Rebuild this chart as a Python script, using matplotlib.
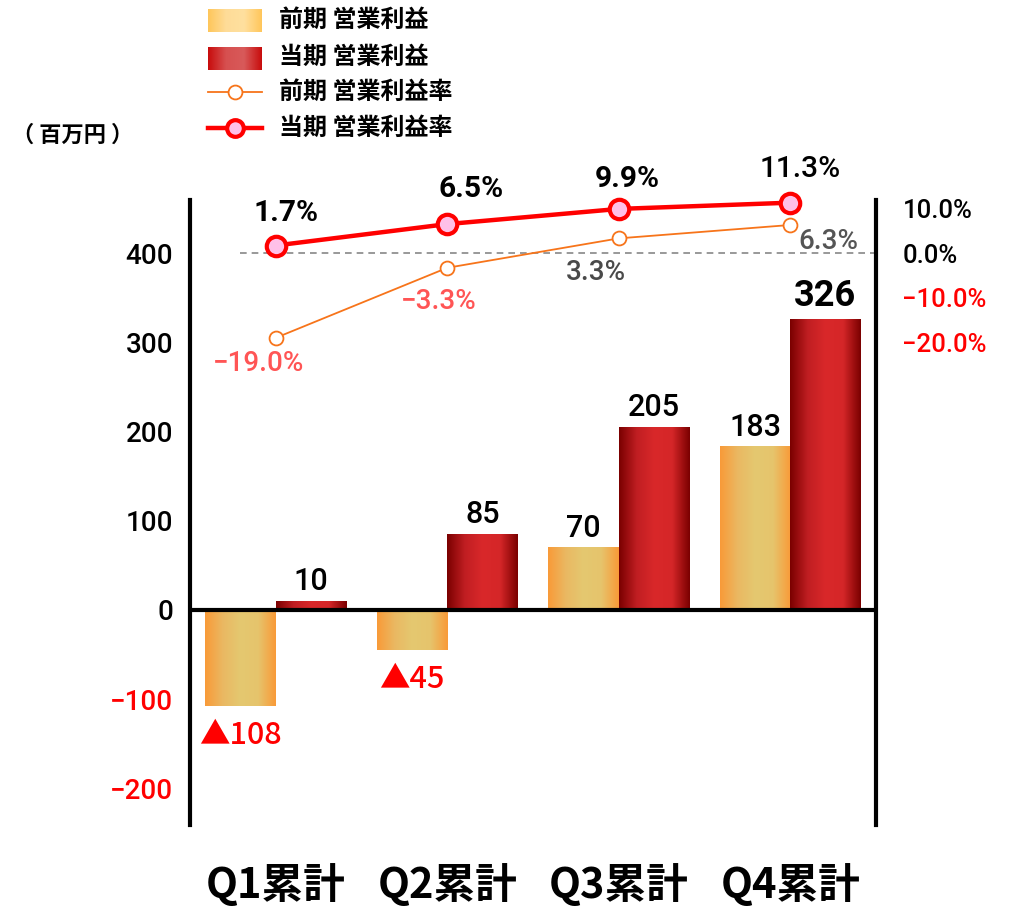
import numpy as np
import matplotlib
matplotlib.use("Agg")
import matplotlib.pyplot as plt
from matplotlib.colors import LinearSegmentedColormap

plt.rcParams["font.family"] = ["Liberation Sans", "Noto Sans CJK JP", "DejaVu Sans"]

# ── data ──────────────────────────────────────────────────────────────
categories = ["Q1累計", "Q2累計", "Q3累計", "Q4累計"]
prev_profit = [-108, -45, 70, 183]
curr_profit = [10, 85, 205, 326]
prev_rate = [-19.0, -3.3, 3.3, 6.3]
curr_rate = [1.7, 6.5, 9.9, 11.3]

left_ticks = [-200, -100, 0, 100, 200, 300, 400]
right_ticks = [-20, -10, 0, 10]

series_names = ["前期 営業利益", "当期 営業利益", "前期 営業利益率", "当期 営業利益率"]

# ── styles ────────────────────────────────────────────────────────────
RED = "#ff0000"
ORANGE = "#f7741a"
NUM = ["Roboto", "DejaVu Sans"]
CJK = ["Noto Sans CJK JP", "DejaVu Sans"]

cmap_prev = LinearSegmentedColormap.from_list(
    "prev", ["#f99a38", "#eab862", "#e4c870", "#e6c46c", "#f99a38"])
cmap_curr = LinearSegmentedColormap.from_list(
    "curr", ["#7a0000", "#c01e22", "#d9282a", "#d52628", "#7a0000"])
cmap_prev_leg = LinearSegmentedColormap.from_list(
    "prev_leg", ["#ffc65a", "#fedc98", "#ffe09f", "#ffc65a"])
cmap_curr_leg = LinearSegmentedColormap.from_list(
    "curr_leg", ["#c80c0c", "#d65050", "#d85a5a", "#c80c0c"])


def fmt_pct(v):
    return f"{v:.1f}%".replace("-", "\u2212")


def gradient_bar(ax, bar, cmap):
    x, y = bar.get_x(), bar.get_y()
    w, h = bar.get_width(), bar.get_height()
    grad = np.linspace(0, 1, 256).reshape(1, -1)
    ax.imshow(grad, extent=[x, x + w, y, y + h], cmap=cmap,
              aspect="auto", zorder=2, interpolation="bicubic")


fig = plt.figure(figsize=(10.1, 9.09), dpi=100)
ax = fig.add_axes([190 / 1010, 1 - 825 / 909, 686 / 1010, 625 / 909])

x = np.arange(len(categories))
width = 0.41
bars_prev = ax.bar(x - width / 2, prev_profit, width, color="none", zorder=2)
bars_curr = ax.bar(x + width / 2, curr_profit, width, color="none", zorder=2)
for b in bars_prev:
    gradient_bar(ax, b, cmap_prev)
for b in bars_curr:
    gradient_bar(ax, b, cmap_curr)

ax.set_xlim(-0.5, len(categories) - 0.5)
ylo, yhi = -241, 459.5
ax.set_ylim(ylo, yhi)
ax.axhline(0, color="black", lw=3, zorder=3)

# bar value labels
for b, v in zip(bars_prev, prev_profit):
    cx = b.get_x() + b.get_width() / 2
    if v < 0:
        ax.annotate(f"▲{abs(v)}", (cx, v), xytext=(0, -14), textcoords="offset pixels",
                    ha="center", va="top", fontsize=22, color=RED,
                    family=CJK, fontweight="medium")
    else:
        ax.annotate(f"{v}", (cx, v), xytext=(0, 5), textcoords="offset pixels",
                    ha="center", va="bottom", fontsize=22, color="black",
                    family=NUM, fontweight="medium")
for i, (b, v) in enumerate(zip(bars_curr, curr_profit)):
    cx = b.get_x() + b.get_width() / 2
    big = i == len(curr_profit) - 1
    ax.annotate(f"{v}", (cx, v), xytext=(0, 5), textcoords="offset pixels",
                ha="center", va="bottom", fontsize=26 if big else 22,
                fontweight="bold" if big else "medium", color="black", family=NUM)

# axes styling
for s in ["top", "bottom", "right"]:
    ax.spines[s].set_visible(False)
ax.spines["left"].set_linewidth(3)
ax.set_yticks(left_ticks)
ax.set_yticklabels([str(t).replace("-", "\u2212") for t in left_ticks], fontsize=20,
                   family=NUM, fontweight="medium")
for lbl, t in zip(ax.get_yticklabels(), left_ticks):
    lbl.set_color(RED if t < 0 else "black")
ax.tick_params(axis="y", length=0, pad=12)
ax.set_xticks(x)
ax.set_xticklabels(categories, fontsize=30, fontweight="bold", family=CJK)
ax.tick_params(axis="x", length=0, pad=28)

# right axis: rate (%), 0% aligned with 400, 10% == 50
ax2 = ax.twinx()
ax2.set_ylim((ylo - 400) / 5, (yhi - 400) / 5)
for s in ["top", "bottom", "left"]:
    ax2.spines[s].set_visible(False)
ax2.spines["right"].set_linewidth(3)
ax2.set_yticks(right_ticks)
ax2.set_yticklabels([fmt_pct(t) for t in right_ticks], fontsize=18.5, family=NUM,
                    fontweight="medium")
for lbl, t in zip(ax2.get_yticklabels(), right_ticks):
    lbl.set_color(RED if t < 0 else "black")
ax2.tick_params(axis="y", length=0, pad=19)

ax2.hlines(0, -0.21, len(categories) - 0.5, colors="#888888", linestyles=(0, (4, 3)),
           lw=1.2, zorder=1)

ax2.plot(x, prev_rate, color=ORANGE, lw=1.3, marker="o", ms=10, mfc="white",
         mec=ORANGE, mew=1.3, zorder=4, clip_on=False)
ax2.plot(x, curr_rate, color=RED, lw=3.2, marker="o", ms=14, mfc="#ffc0e8",
         mec=RED, mew=3, zorder=5, clip_on=False)

# rate labels
curr_off = [(10, 33), (24, 35), (8, 30), (10, 34)]
curr_wt = ["bold", "bold", "bold", "medium"]
for xi, v, (dx, dy), wt in zip(x, curr_rate, curr_off, curr_wt):
    ax2.annotate(fmt_pct(v), (xi, v), xytext=(dx, dy), textcoords="offset pixels",
                 ha="center", va="center", fontsize=21.5, color="black",
                 family=NUM, fontweight=wt)
prev_off = [(-17, -26), (-9, -34), (-23, -34), (38, -17)]
prev_col = ["#ff5555", "#ff5555", "#4a4a4a", "#555555"]
for xi, v, (dx, dy), c in zip(x, prev_rate, prev_off, prev_col):
    ax2.annotate(fmt_pct(v), (xi, v), xytext=(dx, dy), textcoords="offset pixels",
                 ha="center", va="center", fontsize=20, fontweight="medium", color=c,
                 family=NUM)

# unit label
fig.text(12 / 1010, 1 - 135 / 909, "（ 百万円 ）", fontsize=16, fontweight="bold",
         family=CJK, va="center", ha="left")

# legend (drawn manually to keep the gradient swatches)
lg = fig.add_axes([200 / 1010, 1 - 145 / 909, 300 / 1010, 145 / 909])
grad = np.linspace(0, 1, 256).reshape(1, -1)
lg.imshow(grad, extent=[8, 62, 32, 9], cmap=cmap_prev_leg, aspect="auto")
lg.imshow(grad, extent=[8, 62, 70, 47], cmap=cmap_curr_leg, aspect="auto")
lg.plot([8, 62], [92, 92], color=ORANGE, lw=1.3)
lg.plot([35], [92], marker="o", ms=10, mfc="white", mec=ORANGE, mew=1.3)
lg.plot([8, 62], [128, 128], color=RED, lw=3.2)
lg.plot([35], [128], marker="o", ms=12, mfc="#ffc0e8", mec=RED, mew=3)
lg.set_xlim(0, 300)
lg.set_ylim(145, 0)
lg.axis("off")
for name, yy in zip(series_names, [20, 57, 92, 128]):
    lg.text(79, yy, name, fontsize=17.3, fontweight="bold", family=CJK,
            va="center", ha="left")

fig.savefig("out.png", dpi=100, facecolor="white")
